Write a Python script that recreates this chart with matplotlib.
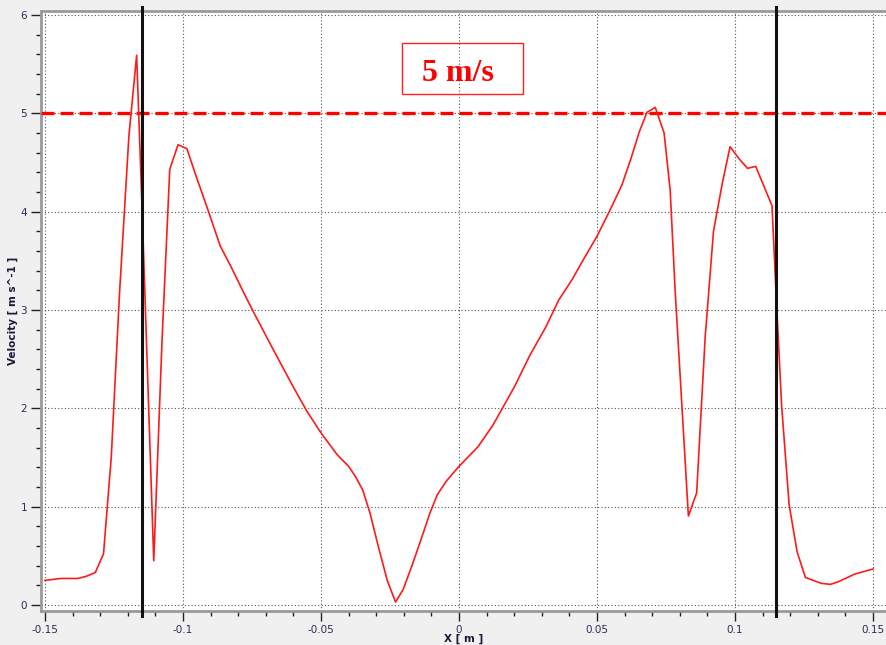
import matplotlib
matplotlib.use('Agg')
import matplotlib.pyplot as plt
from matplotlib.patches import Rectangle
from matplotlib.ticker import MultipleLocator

# ── Data ──────────────────────────────────────────────────────────────────────
x_m = [-0.1500, -0.1442, -0.1382, -0.1352, -0.1318, -0.1288, -0.1260, -0.1230,
       -0.1196, -0.1168, -0.1150, -0.1106, -0.1076, -0.1048, -0.1018, -0.0986,
       -0.0950, -0.0910, -0.0865, -0.0827, -0.0779, -0.0743, -0.0683, -0.0647,
       -0.0599, -0.0551, -0.0500, -0.0442, -0.0400, -0.0376, -0.0349, -0.0322,
       -0.0292, -0.0260, -0.0230, -0.0202, -0.0168, -0.0136, -0.0106, -0.0079,
       -0.0046, 0.0000, 0.0069, 0.0123, 0.0165, 0.0201, 0.0255, 0.0315,
       0.0361, 0.0410, 0.0446, 0.0500, 0.0548, 0.0590, 0.0623, 0.0653,
       0.0681, 0.0711, 0.0743, 0.0765, 0.0783, 0.0831, 0.0861, 0.0892,
       0.0922, 0.0954, 0.0982, 0.1014, 0.1045, 0.1075, 0.1134, 0.1151,
       0.1169, 0.1196, 0.1225, 0.1255, 0.1313, 0.1346, 0.1377, 0.1434, 0.1500]
velocity = [0.25, 0.27, 0.27, 0.29, 0.33, 0.52, 1.50, 3.17,
            4.77, 5.59, 4.17, 0.45, 2.69, 4.43, 4.68, 4.64,
            4.34, 4.02, 3.65, 3.445, 3.17, 2.97, 2.65, 2.46,
            2.21, 1.97, 1.75, 1.53, 1.41, 1.31, 1.17, 0.93,
            0.59, 0.25, 0.03, 0.16, 0.42, 0.68, 0.93, 1.12,
            1.26, 1.41, 1.61, 1.83, 2.04, 2.22, 2.53, 2.83,
            3.10, 3.31, 3.49, 3.75, 4.02, 4.27, 4.54, 4.81,
            5.01, 5.06, 4.80, 4.22, 3.20, 0.905, 1.14, 2.73,
            3.80, 4.29, 4.66, 4.54, 4.44, 4.46, 4.06, 3.03,
            2.02, 1.02, 0.54, 0.28, 0.22, 0.21, 0.24, 0.315, 0.366]
wall_x = [-0.115, 0.115]
ref_velocity = 5.0
ref_label = '5 m/s'

# ── Figure ────────────────────────────────────────────────────────────────────
W, H = 886, 645
fig = plt.figure(figsize=(W / 100, H / 100), dpi=100)
fig.patch.set_facecolor('#f0f0f0')
ax = fig.add_axes([41 / W, (H - 611) / H, 845 / W, 600 / H])
ax.set_facecolor('white')

tick_col = '#2b2b55'
grid_col = '#555555'

ax.set_xlim(-0.15145, 0.1547)
ax.set_ylim(-0.061, 6.04)
ax.xaxis.set_major_locator(MultipleLocator(0.05))
ax.xaxis.set_minor_locator(MultipleLocator(0.01))
ax.yaxis.set_major_locator(MultipleLocator(1))
ax.yaxis.set_minor_locator(MultipleLocator(0.2))
ax.set_xticks([-0.15, -0.1, -0.05, 0, 0.05, 0.1, 0.15])
ax.set_xticklabels(['-0.15', '-0.1', '-0.05', '0', '0.05', '0.1', '0.15'])
ax.set_yticks([0, 1, 2, 3, 4, 5, 6])
ax.set_yticklabels(['0', '1', '2', '3', '4', '5', '6'])

ax.tick_params(which='major', length=7, width=1, color='#222222',
               labelsize=7.5, labelcolor=tick_col, pad=3)
ax.tick_params(which='minor', length=3.5, width=1, color='#222222')
ax.tick_params(top=False, right=False)

for name, sp in ax.spines.items():
    sp.set_color('#9a9a9a')
    sp.set_linewidth(2)
ax.spines['right'].set_visible(False)

ax.grid(which='major', color=grid_col, linestyle=(0, (1, 2)), linewidth=0.8)
ax.set_axisbelow(True)

# reference line + walls + profile
ax.axhline(ref_velocity, color='#ff0000', linewidth=2.4, dashes=(3.9, 1.8), zorder=3)
ax.plot(x_m, velocity, color='#ff1a1a', linewidth=1.2, zorder=4)
for xv in wall_x:
    ax.axvline(xv, ymin=-0.008, ymax=1.006, color='#111111', linewidth=2.2,
               zorder=5, clip_on=False)

# annotation box
ax.add_patch(Rectangle((-0.02065, 5.197), 0.04384, 0.518, fill=False,
                       edgecolor='#ff2020', linewidth=1.0, zorder=6))
ax.text(-0.0005, 5.40, ref_label, color='#ff0000', fontsize=23,
        fontweight='bold', family='Liberation Serif', ha='center', va='center',
        zorder=7)

ax.set_xlabel('X [ m ]', fontsize=7.5, fontweight='bold', color='#1a1a3a', labelpad=-1)
ax.set_ylabel('Velocity [ m s^-1 ]', fontsize=7.5, fontweight='bold',
              color='#1a1a3a', labelpad=2)

fig.savefig('out.png', dpi=100, facecolor=fig.get_facecolor())
